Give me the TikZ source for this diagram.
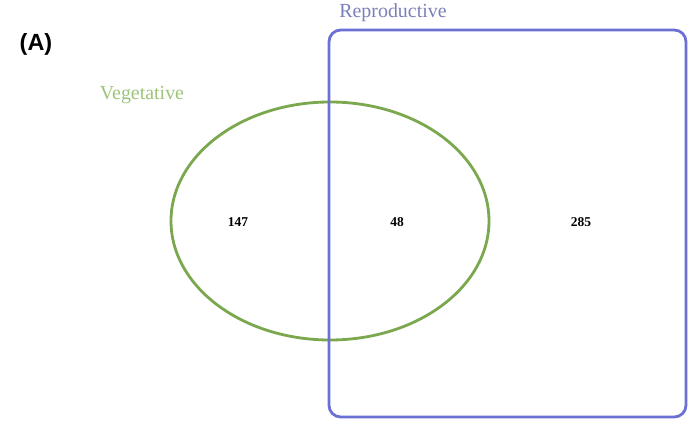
\documentclass[tikz,border=0pt]{standalone}
\usepackage{fontspec}
\setmainfont{Liberation Serif}
\setsansfont{Liberation Sans}
\usetikzlibrary{positioning}
\definecolor{cveg}{HTML}{7BA84F}
\definecolor{cvegtxt}{HTML}{9CC47A}
\definecolor{crep}{HTML}{6B70D4}
\definecolor{creptxt}{HTML}{7C80B8}
\tikzset{
  every picture/.style={line width=2.4pt},
  setlabel/.style={font=\fontsize{17}{19}\selectfont, inner sep=0pt},
  count/.style={font=\bfseries\fontsize{11.5}{13}\selectfont, inner sep=0pt},
}
\begin{document}
\begin{tikzpicture}[x=0.03cm, y=-0.03cm]
  \useasboundingbox (0,0) rectangle (692,425);
  % the two sets
  \draw[cveg] (330,221) ellipse [x radius=159, y radius=119];
  \draw[crep, rounded corners=10] (329,30) rectangle (686,417);
  % set names
  \node[setlabel, text=cvegtxt] (veg) at (142,95) {Vegetative};
  \node[setlabel, text=creptxt] (rep) at (393,13) {Reproductive};
  % counts
  \node[count] (only veg) at (238,222) {147};
  \node[count] (both) at (397,222) {48};
  \node[count] (only rep) at (581,222) {285};
  % panel letter
  \node[font=\sffamily\bfseries\fontsize{20}{22}\selectfont, inner sep=0pt] (panel) at (36,44) {(A)};
\end{tikzpicture}
\end{document}
